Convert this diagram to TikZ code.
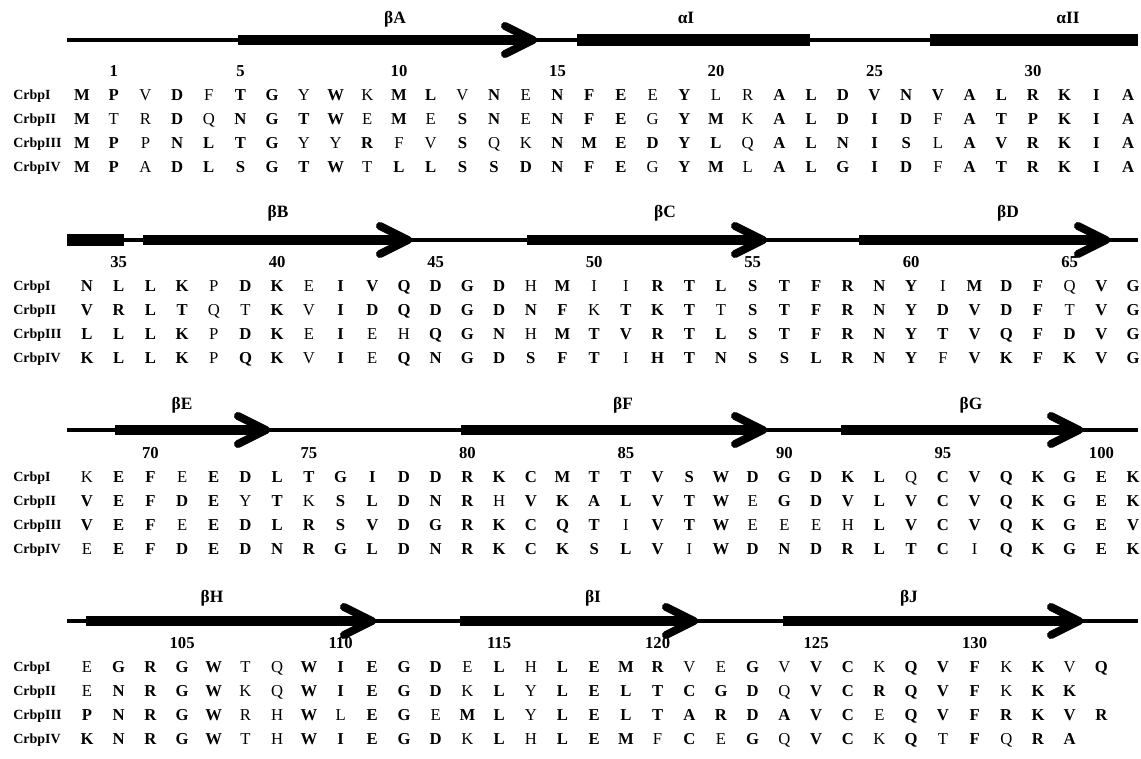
\documentclass[tikz,border=0pt]{standalone}
\usepackage{fontspec}
\setmainfont{Liberation Serif}
\usepackage{tikz}
\usetikzlibrary{calc}

% lower case in the lists = residue set in normal weight
\newcommand{\resfmt}[1]{\ifnum\expandafter`#1>96 \expandafter\uppercase\expandafter{#1}\else\textbf{#1}\fi}

\begin{document}
\begin{tikzpicture}[
    x=0.75pt, y=-0.75pt,
    res/.style={font=\fontsize{12.5}{13}\selectfont, inner sep=0pt,
                text height=8.2pt, text depth=0pt},
    num/.style={font=\bfseries\fontsize{12.5}{13}\selectfont, inner sep=0pt,
                text height=8.4pt, text depth=0pt},
    seqname/.style={font=\bfseries\fontsize{10.5}{12}\selectfont, anchor=west,
                    inner sep=0pt, text height=7pt, text depth=0pt},
    sse/.style={font=\bfseries\fontsize{13}{14}\selectfont, inner sep=0pt,
                text height=8.6pt, text depth=0pt},
    coil/.style={line width=2.6pt},
    strand/.style={line width=7pt},
    helix/.style={line width=8.5pt},
    chevron/.style={line width=6pt, line cap=round, line join=round}
]
\path[use as bounding box, fill=white] (0,0) rectangle (1141,759);

% secondary structure
\foreach \y in {40,240,430,621}
  \draw[coil] (67,\y) -- (1138,\y);
\draw[helix] (577,40) -- (810,40);
\draw[helix] (930,40) -- (1138,40);
\draw[helix] (67,240) -- (124,240);
\foreach \s/\t/\y in {238/533/40, 143/408/240, 527/763/240, 859/1106/240,
                      115/266/430, 461/763/430, 841/1079/430,
                      86/372/621, 460/694/621, 783/1079/621} {
  \draw[strand] (\s,\y) -- (\t-5,\y);
  \draw[chevron] (\t-28,\y-14) -- (\t,\y) -- (\t-28,\y+14);
}

\node[sse] (bA) at (395,18) {βA};
\node[sse] (aI) at (686,18) {αI};
\node[sse] (aII) at (1068,18) {αII};
\node[sse] (bB) at (278,212) {βB};
\node[sse] (bC) at (665,212) {βC};
\node[sse] (bD) at (1008,212) {βD};
\node[sse] (bE) at (182,404) {βE};
\node[sse] (bF) at (623,404) {βF};
\node[sse] (bG) at (971,404) {βG};
\node[sse] (bH) at (212,597) {βH};
\node[sse] (bI) at (593,597) {βI};
\node[sse] (bJ) at (909,597) {βJ};

% residue numbers
\foreach \n in {1,5,10,...,30}
  \node[num] (n\n) at ({82+\n*31.7},71) {\n};
\foreach \n in {35,40,...,65}
  \node[num] (n\n) at ({87+(\n-34)*31.7},262) {\n};
\foreach \n in {70,75,...,100}
  \node[num] (n\n) at ({87+(\n-68)*31.7},453) {\n};
\foreach \n in {105,110,...,130}
  \node[num] (n\n) at ({87+(\n-102)*31.7},643) {\n};

% sequence names
\foreach \blk/\y in {1/95,2/286,3/477,4/667} {
  \node[seqname] (name\blk-1) at (13,\y) {CrbpI};
  \node[seqname] (name\blk-2) at (13,\y+24) {CrbpII};
  \node[seqname] (name\blk-3) at (13,\y+48) {CrbpIII};
  \node[seqname] (name\blk-4) at (13,\y+72) {CrbpIV};
}

% block 1
\foreach \resid [count=\i] in {M,P,v,D,f,T,G,y,W,k,M,L,v,N,e,N,F,E,e,Y,l,r,A,L,D,V,N,V,A,L,R,K,I,A}
  \node[res] (b1r1-\i) at ({82+(\i-1)*31.7},95) {\resfmt{\resid}};
\foreach \resid [count=\i] in {M,t,r,D,q,N,G,T,W,e,M,e,S,N,e,N,F,E,g,Y,M,k,A,L,D,I,D,f,A,T,P,K,I,A}
  \node[res] (b1r2-\i) at ({82+(\i-1)*31.7},119) {\resfmt{\resid}};
\foreach \resid [count=\i] in {M,P,p,N,L,T,G,y,y,R,f,v,S,q,k,N,M,E,D,Y,L,q,A,L,N,I,S,l,A,V,R,K,I,A}
  \node[res] (b1r3-\i) at ({82+(\i-1)*31.7},143) {\resfmt{\resid}};
\foreach \resid [count=\i] in {M,P,a,D,L,S,G,T,W,t,L,L,S,S,D,N,F,E,g,Y,M,l,A,L,G,I,D,f,A,T,R,K,I,A}
  \node[res] (b1r4-\i) at ({82+(\i-1)*31.7},167) {\resfmt{\resid}};

% block 2
\foreach \resid [count=\i] in {N,L,L,K,p,D,K,e,I,V,Q,D,G,D,h,M,i,i,R,T,L,S,T,F,R,N,Y,i,M,D,F,q,V,G}
  \node[res] (b2r1-\i) at ({87+(\i-1)*31.7},286) {\resfmt{\resid}};
\foreach \resid [count=\i] in {V,R,L,T,q,t,K,v,I,D,Q,D,G,D,N,F,k,T,K,T,t,S,T,F,R,N,Y,D,V,D,F,t,V,G}
  \node[res] (b2r2-\i) at ({87+(\i-1)*31.7},310) {\resfmt{\resid}};
\foreach \resid [count=\i] in {L,L,L,K,p,D,K,e,I,e,h,Q,G,N,h,M,T,V,R,T,L,S,T,F,R,N,Y,T,V,Q,F,D,V,G}
  \node[res] (b2r3-\i) at ({87+(\i-1)*31.7},334) {\resfmt{\resid}};
\foreach \resid [count=\i] in {K,L,L,K,p,Q,K,v,I,e,Q,N,G,D,S,F,T,i,H,T,N,S,S,L,R,N,Y,f,V,K,F,K,V,G}
  \node[res] (b2r4-\i) at ({87+(\i-1)*31.7},358) {\resfmt{\resid}};

% block 3
\foreach \resid [count=\i] in {k,E,F,e,E,D,L,T,G,I,D,D,R,K,C,M,T,T,V,S,W,D,G,D,K,L,q,C,V,Q,K,G,E,K}
  \node[res] (b3r1-\i) at ({87+(\i-1)*31.7},477) {\resfmt{\resid}};
\foreach \resid [count=\i] in {V,E,F,D,E,y,T,k,S,L,D,N,R,h,V,K,A,L,V,T,W,e,G,D,V,L,V,C,V,Q,K,G,E,K}
  \node[res] (b3r2-\i) at ({87+(\i-1)*31.7},501) {\resfmt{\resid}};
\foreach \resid [count=\i] in {V,E,F,e,E,D,L,R,S,V,D,G,R,K,C,Q,T,i,V,T,W,e,e,e,h,L,V,C,V,Q,K,G,E,V}
  \node[res] (b3r3-\i) at ({87+(\i-1)*31.7},525) {\resfmt{\resid}};
\foreach \resid [count=\i] in {e,E,F,D,E,D,N,R,G,L,D,N,R,K,C,K,S,L,V,i,W,D,N,D,R,L,T,C,i,Q,K,G,E,K}
  \node[res] (b3r4-\i) at ({87+(\i-1)*31.7},549) {\resfmt{\resid}};

% block 4
\foreach \resid [count=\i] in {e,G,R,G,W,t,q,W,I,E,G,D,e,L,h,L,E,M,R,v,e,G,v,V,C,k,Q,V,F,k,K,v,Q}
  \node[res] (b4r1-\i) at ({87+(\i-1)*31.7},667) {\resfmt{\resid}};
\foreach \resid [count=\i] in {e,N,R,G,W,k,q,W,I,E,G,D,k,L,y,L,E,L,T,C,G,D,q,V,C,R,Q,V,F,k,K,K}
  \node[res] (b4r2-\i) at ({87+(\i-1)*31.7},691) {\resfmt{\resid}};
\foreach \resid [count=\i] in {P,N,R,G,W,r,h,W,l,E,G,e,M,L,y,L,E,L,T,A,R,D,A,V,C,e,Q,V,F,R,K,V,R}
  \node[res] (b4r3-\i) at ({87+(\i-1)*31.7},715) {\resfmt{\resid}};
\foreach \resid [count=\i] in {K,N,R,G,W,t,h,W,I,E,G,D,k,L,h,L,E,M,f,C,e,G,q,V,C,k,Q,t,F,q,R,A}
  \node[res] (b4r4-\i) at ({87+(\i-1)*31.7},739) {\resfmt{\resid}};
\end{tikzpicture}
\end{document}
